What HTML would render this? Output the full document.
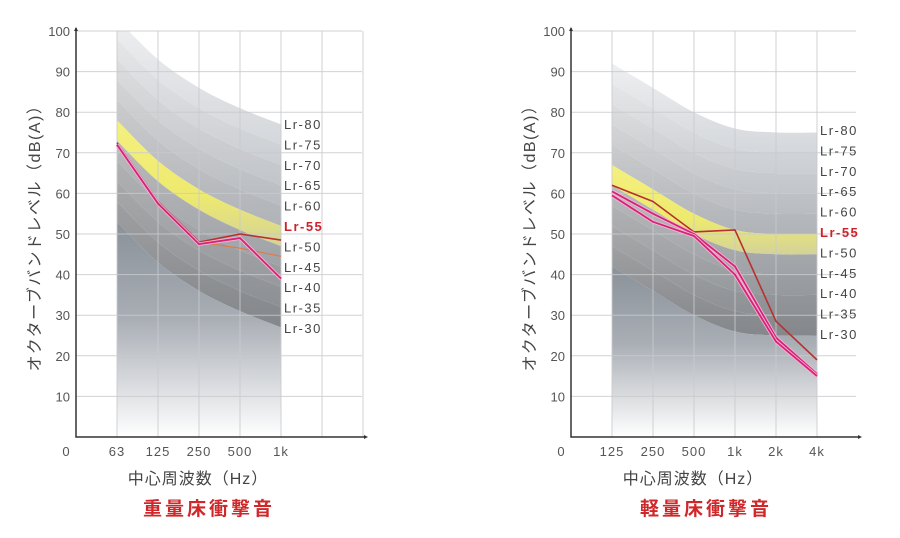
<!DOCTYPE html>
<html><head><meta charset="utf-8">
<style>
html,body{margin:0;padding:0;background:#fff;}
svg{display:block;font-family:"Liberation Sans","Noto Sans CJK JP",sans-serif;}
</style></head>
<body>
<svg id="root" width="900" height="538" viewBox="0 0 900 538">
<defs>
  <linearGradient id="bottomFade" x1="0" y1="0" x2="0" y2="1">
    <stop offset="0" stop-color="#8a9199"/>
    <stop offset="0.45" stop-color="#a9aeb5"/>
    <stop offset="1" stop-color="#ffffff"/>
  </linearGradient>
  <linearGradient id="yellowBand" x1="0" y1="0" x2="0" y2="1">
    <stop offset="0" stop-color="#f4f07e"/>
    <stop offset="0.6" stop-color="#eeea6e"/>
    <stop offset="1" stop-color="#d3d29a"/>
  </linearGradient>
</defs>
</svg>
<script>
// ---- Data ----
const heavyFreqs = ["63","125","250","500","1k"];
const heavyCurveOffsets = [23, 13, 6, 1, -3];
const heavySeriesA = [72.5, 58, 48, 50, 48.5];
const heavySeriesB = [72, 57, 48, 46.5, 44.5];
const heavySeriesC = [72, 57.5, 47.5, 49, 39];

const lightFreqs = ["125","250","500","1k","2k","4k"];
const lightCurveOffsets = [12, 6, 0, -4, -5, -5];
const lightSeriesA = [62, 58, 50.5, 51, 28.5, 19];
const lightSeriesB = [60.5, 55, 50, 42, 24.5, 15.5];
const lightSeriesC = [59.5, 53, 49.5, 40, 23.5, 15];

const lrLevels = [80, 75, 70, 65, 60, 55, 50, 45, 40, 35, 30];
const yTicks = [10, 20, 30, 40, 50, 60, 70, 80, 90, 100];

const NS = "http://www.w3.org/2000/svg";
const root = document.getElementById("root");
function mk(tag, attrs, parent) {
  const e = document.createElementNS(NS, tag);
  for (const k in attrs) e.setAttribute(k, attrs[k]);
  (parent || root).appendChild(e);
  return e;
}
function smooth(pts, move) {
  let d = (move ? "M" : "L") + pts[0][0] + "," + pts[0][1];
  for (let i = 0; i < pts.length - 1; i++) {
    const p0 = pts[Math.max(0, i - 1)], p1 = pts[i], p2 = pts[i + 1], p3 = pts[Math.min(pts.length - 1, i + 2)];
    const c1x = p1[0] + (p2[0] - p0[0]) / 6, c1y = p1[1] + (p2[1] - p0[1]) / 6;
    const c2x = p2[0] - (p3[0] - p1[0]) / 6, c2y = p2[1] - (p3[1] - p1[1]) / 6;
    d += ` C${c1x},${c1y} ${c2x},${c2y} ${p2[0]},${p2[1]}`;
  }
  return d;
}

function drawChart(cfg) {
  const g = mk("g", {});
  
  
  const y = v => 437 - v * 4.06;
  const xi = i => cfg.firstX + i * 41;
  const top = y(100);
  const n = cfg.freqs.length;
  const clipId = cfg.name + "-clip";
  const cp = mk("clipPath", {id: clipId}, root.querySelector("defs"));
  mk("rect", {x: xi(0), y: top, width: xi(n - 1) - xi(0), height: y(0) - top}, cp);
  const bands = mk("g", {"clip-path": `url(#${clipId})`}, g);
  
  
  const curvePts = lv => cfg.offsets.map((o, i) => [xi(i), y(lv + o)]);
  for (let k = 0; k < lrLevels.length - 1; k++) {
    const a = curvePts(lrLevels[k]), b = curvePts(lrLevels[k + 1]).reverse();
    const d = smooth(a, true) + smooth(b, false) + "Z";
    const t = k / (lrLevels.length - 2);
    const light = Math.round(238 - t * 80), dark = Math.round(212 - t * 80);
    const gid = cfg.name + "-g" + k;
    const lg = mk("linearGradient", {id: gid, x1: 0, y1: 0, x2: 0, y2: 1}, root.querySelector("defs"));
    mk("stop", {offset: 0, "stop-color": `rgb(${light},${light+1},${light+3})`}, lg);
    mk("stop", {offset: 1, "stop-color": `rgb(${dark},${dark+3},${dark+7})`}, lg);
    const fill = lrLevels[k] === 55 ? "url(#yellowBand)" : `url(#${gid})`;
    const p = mk("path", {d: d, fill: fill}, bands);
    
    
  }
  {
    const a = curvePts(30);
    const d = smooth(a, true) + ` L${xi(n - 1)},${y(0)} L${xi(0)},${y(0)} Z`;
    const p = mk("path", {d: d, fill: "url(#bottomFade)"}, bands);
    
    
  }
  // grid (over bands)
  const grid = mk("g", {}, g);
  
  
  yTicks.forEach(v => {
    const l = mk("line", {x1: cfg.axisX, x2: cfg.rightX, y1: y(v), y2: y(v), stroke: "#c8cacd", "stroke-width": 1, "stroke-opacity": 0.85}, grid);
    
    
    const t = mk("text", {x: cfg.axisX - 6, y: y(v) + 5, "text-anchor": "end", "font-size": 13, fill: "#555"}, g);
    t.textContent = v;
    
    
  });
  for (let x = cfg.axisX + 41; x <= cfg.rightX + 1; x += 41) {
    const l = mk("line", {x1: x, x2: x, y1: top, y2: y(0), stroke: "#c8cacd", "stroke-width": 1, "stroke-opacity": 0.85}, grid);
    
    
  }
  // series
  const drawLine = (s, color, w, halo, idx) => {
    const pts = s.map((v, i) => xi(i) + "," + y(v)).join(" ");
    if (halo) mk("polyline", {points: pts, fill: "none", stroke: halo, "stroke-width": 3.6, "stroke-linejoin": "round"}, g);
    const pl = mk("polyline", {points: pts, fill: "none", stroke: color, "stroke-width": w, "stroke-linejoin": "round"}, g);
    
    
  };
  if (cfg.seriesB) drawLine(cfg.seriesB, "#e07a4a", 1.2, null, 2);
  drawLine(cfg.seriesA, "#b83030", 1.6, null, 1);
  drawLine(cfg.seriesC, "#d4237a", 1.8, "#f3b5cf", 3);
  if (cfg.seriesD) drawLine(cfg.seriesD, "#d4237a", 1.8, "#f3b5cf", 4);
  // axes
  const ax = mk("path", {d: `M${cfg.axisX},${top-3} L${cfg.axisX},${y(0)} L${cfg.rightX+2},${y(0)}`, fill: "none", stroke: "#333", "stroke-width": 1.5}, g);
  
  
  mk("polygon", {points: `${cfg.axisX-2},${top} ${cfg.axisX+2},${top} ${cfg.axisX},${top-4}`, fill: "#333"}, g);
  mk("polygon", {points: `${cfg.rightX+2},${y(0)-2} ${cfg.rightX+2},${y(0)+2} ${cfg.rightX+6},${y(0)}`, fill: "#333"}, g);
  const z = mk("text", {x: cfg.axisX - 10, y: 456, "text-anchor": "middle", "font-size": 13, fill: "#555"}, g);
  z.textContent = "0";
  
  
  cfg.freqs.forEach((f, i) => {
    const t = mk("text", {x: xi(i), y: 456, "text-anchor": "middle", "font-size": 13, fill: "#555", "letter-spacing": 1}, g);
    t.textContent = f;
    
    
  });
  lrLevels.forEach((lv, k) => {
    const t = mk("text", {x: cfg.lrX, y: cfg.lrY + k * 20.4, "font-size": 13, "letter-spacing": 1.5,
      fill: lv === 55 ? "#d0202a" : "#444", "font-weight": lv === 55 ? "bold" : "normal"}, g);
    t.textContent = "Lr-" + lv;
    
    
  });
  const yt = mk("text", {x: 0, y: 0, transform: `translate(${cfg.axisX - 36},${y(50)}) rotate(-90)`, "text-anchor": "middle", "font-size": 16, fill: "#444", "letter-spacing": 1.5}, g);
  yt.textContent = "オクターブバンドレベル（dB(A)）";
  
  
  const xt = mk("text", {x: cfg.xTitleX, y: 484, "text-anchor": "middle", "font-size": 16, fill: "#444", "letter-spacing": 1}, g);
  xt.textContent = "中心周波数（Hz）";
  
  
  const tt = mk("text", {x: cfg.titleX, y: 515, "text-anchor": "middle", "font-size": 19, "font-weight": "bold", fill: "#d0282a", "letter-spacing": 3}, g);
  tt.textContent = cfg.title;
  
  
}

drawChart({name: "heavy-impact-chart", freqs: heavyFreqs, offsets: heavyCurveOffsets,
  seriesA: heavySeriesA, seriesB: heavySeriesB, seriesC: heavySeriesC, axisX: 76, firstX: 117, rightX: 362,
  lrX: 284, lrY: 129, xTitleX: 198, titleX: 209, title: "重量床衝撃音"});
drawChart({name: "light-impact-chart", freqs: lightFreqs, offsets: lightCurveOffsets,
  seriesA: lightSeriesA, seriesC: lightSeriesB, seriesD: lightSeriesC, axisX: 571, firstX: 612, rightX: 856,
  lrX: 820, lrY: 135, xTitleX: 693, titleX: 706, title: "軽量床衝撃音"});
</script>
</body></html>
